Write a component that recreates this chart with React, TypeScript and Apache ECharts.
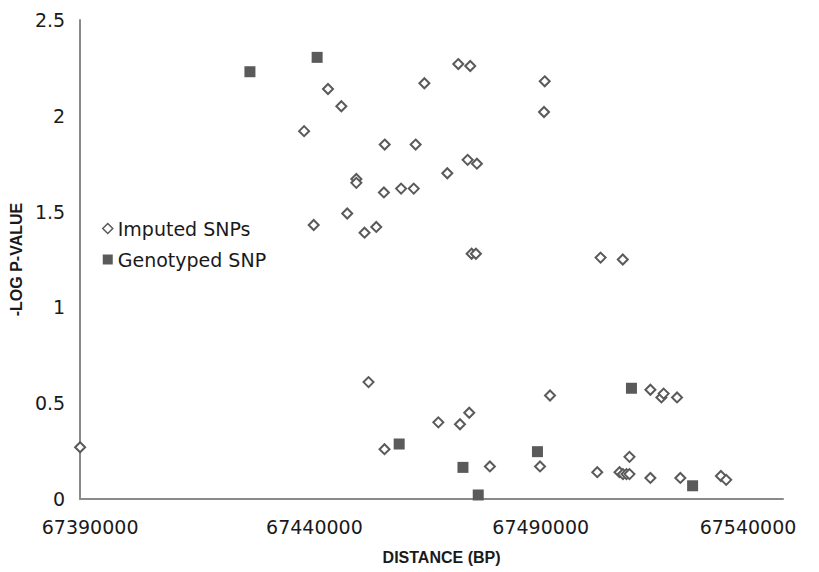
import React, { useEffect, useRef } from "react";
import * as echarts from "echarts";

const imputedPos = [
  67390000, 67437800, 67439850, 67442900, 67445750, 67447000, 67448950, 67448950,
  67450700, 67451550, 67453200, 67455000, 67454830, 67454960, 67458500, 67461200,
  67461600, 67463470, 67466450, 67468360, 67470700, 67471070, 67472700, 67473040,
  67473260, 67473550, 67474470, 67474680, 67477450, 67488150, 67489150, 67489000,
  67490280, 67500360, 67501070, 67505110, 67505810, 67505850, 67506600, 67507240,
  67507240, 67511700, 67511700, 67514050, 67514530, 67517390, 67518090, 67526750,
  67527880,
];
const imputedLogP = [
  0.27, 1.92, 1.43, 2.14, 2.05, 1.49, 1.67, 1.65,
  1.39, 0.61, 1.42, 1.85, 1.6, 0.26, 1.62, 1.62,
  1.85, 2.17, 0.4, 1.7, 2.27, 0.39, 1.77, 0.45,
  2.26, 1.28, 1.28, 1.75, 0.17, 0.17, 2.18, 2.02,
  0.54, 0.14, 1.26, 0.14, 1.25, 0.13, 0.13, 0.13,
  0.22, 0.57, 0.11, 0.53, 0.55, 0.53, 0.11, 0.12,
  0.1,
];
const genotypedPos = [67426240, 67440580, 67458090, 67471700, 67474960, 67487600, 67507660, 67520710];
const genotypedLogP = [2.23, 2.305, 0.287, 0.165, 0.021, 0.247, 0.578, 0.069];

const seriesNames = ["Imputed SNPs", "Genotyped SNPs"];
const xTickLabels = [67390000, 67440000, 67490000, 67540000];
const yTickLabels = [0, 0.5, 1, 1.5, 2, 2.5];
const xTitle = "DISTANCE (BP)";
const yTitle = "-LOG P-VALUE";

const MARK = "#5a5a5a";
const AXIS = "#8a8a8a";
const TEXT = "#1a1a1a";
const FONT = "DejaVu Sans";

export default function App() {
  const ref = useRef<HTMLDivElement>(null);
  useEffect(() => {
    if (!ref.current) return;
    const chart = echarts.init(ref.current, undefined, { renderer: "svg" });
    const imputed = imputedPos.map((x, i) => [x, imputedLogP[i]]);
    const genotyped = genotypedPos.map((x, i) => [x, genotypedLogP[i]]);
    const xMin = xTickLabels[0];
    const xMax = xTickLabels[xTickLabels.length - 1];
    chart.setOption({
      animation: false,
      backgroundColor: "#ffffff",
      grid: { left: 78, right: 36, top: 20, bottom: 73, containLabel: false },
      legend: {
        orient: "vertical",
        left: 97,
        top: 214,
        itemGap: 12,
        itemWidth: 10,
        itemHeight: 10,
        selectedMode: false,
        textStyle: {
          fontFamily: FONT,
          fontSize: 19,
          color: TEXT,
          width: 152,
          overflow: "truncate",
          ellipsis: "",
        },
        data: [
          { name: seriesNames[0], icon: "diamond", itemStyle: { color: "#fff", borderColor: MARK, borderWidth: 1.5 } },
          { name: seriesNames[1], icon: "rect", itemStyle: { color: MARK } },
        ],
      },
      xAxis: {
        type: "value",
        min: xMin,
        max: xMax,
        interval: 10000,
        name: xTitle,
        nameLocation: "middle",
        nameGap: 50,
        nameTextStyle: {
          fontFamily: "Liberation Sans",
          fontWeight: "bold",
          fontSize: 16,
          color: TEXT,
          padding: [0, 0, 0, 20],
        },
        axisLine: { show: true, lineStyle: { color: AXIS, width: 2 } },
        axisTick: { show: false },
        splitLine: { show: false },
        axisLabel: {
          margin: 18,
          fontFamily: FONT,
          fontSize: 19,
          color: TEXT,
          formatter: (v: number) => {
            const idx = xTickLabels.indexOf(v);
            if (idx < 0) return "";
            const key = ["a", "b", "c", "d"][idx];
            return `{${key}|${v}}`;
          },
          rich: {
            a: { fontFamily: FONT, fontSize: 19, color: TEXT, padding: [0, 0, 0, 20] },
            b: { fontFamily: FONT, fontSize: 19, color: TEXT },
            c: { fontFamily: FONT, fontSize: 19, color: TEXT, padding: [0, 16, 0, 0] },
            d: { fontFamily: FONT, fontSize: 19, color: TEXT, padding: [0, 70, 0, 0] },
          },
        },
      },
      yAxis: {
        type: "value",
        min: yTickLabels[0],
        max: yTickLabels[yTickLabels.length - 1],
        interval: 0.5,
        name: yTitle,
        nameLocation: "middle",
        nameGap: 49,
        nameTextStyle: {
          fontFamily: "Liberation Sans",
          fontWeight: "bold",
          fontSize: 16,
          color: TEXT,
        },
        axisLine: { show: true, lineStyle: { color: AXIS, width: 2 } },
        axisTick: { show: false },
        splitLine: { show: false },
        axisLabel: { margin: 15, fontFamily: FONT, fontSize: 19, color: TEXT },
      },
      series: [
        {
          name: seriesNames[0],
          type: "scatter",
          symbol: "diamond",
          symbolSize: 10,
          itemStyle: { color: "#ffffff", borderColor: MARK, borderWidth: 2, opacity: 1 },
          data: imputed,
          z: 3,
        },
        {
          name: seriesNames[1],
          type: "scatter",
          symbol: "rect",
          symbolSize: 11,
          itemStyle: { color: MARK, opacity: 1 },
          data: genotyped,
          z: 2,
        },
      ],
    });
    return () => chart.dispose();
  }, []);
  return <div ref={ref} style={{ width: 819, height: 572, position: "absolute", left: 0, top: 0 }} />;
}
